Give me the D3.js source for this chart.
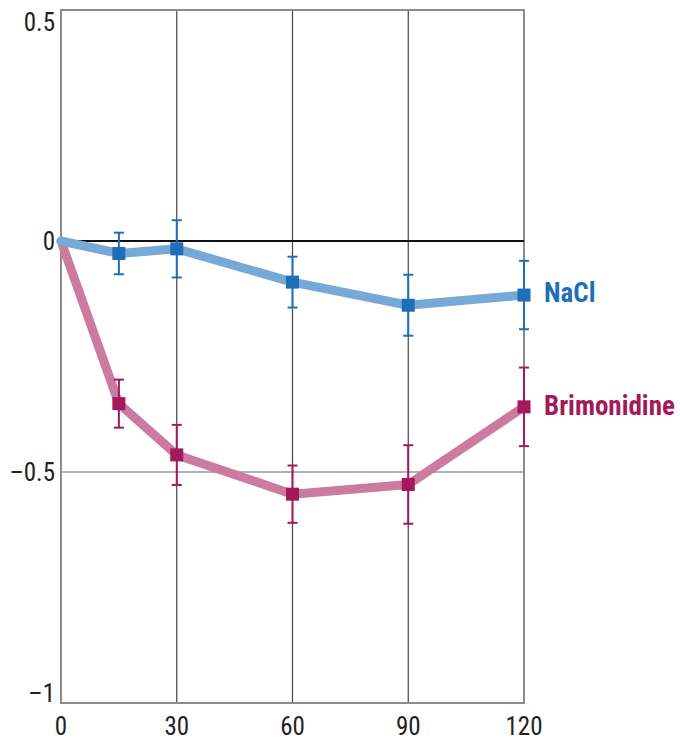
<!DOCTYPE html>
<html>
<head>
<meta charset="utf-8">
<script src="https://cdn.jsdelivr.net/npm/d3@7"></script>
<style>
  body { margin: 0; background: #fff; }
  svg text { font-family: "Liberation Sans Narrow", "Roboto Condensed", "DejaVu Sans Condensed", sans-serif; }
</style>
</head>
<body>
<svg id="chart" width="680" height="740"></svg>
<script>
// minutes
var times = [0, 15, 30, 60, 90, 120];
var naclMean = [0, -0.027, -0.017, -0.089, -0.139, -0.117];
var naclErr = [null, 0.045, 0.062, 0.055, 0.066, 0.074];
var brimMean = [0, -0.352, -0.463, -0.548, -0.527, -0.359];
var brimErr = [null, 0.052, 0.065, 0.062, 0.085, 0.085];
var xTicks = [0, 30, 60, 90, 120];
var yTicks = [0.5, 0, -0.5, -1];
var yTickLabels = ["0.5", "0", "\u20130.5", "\u20131"];

var svg = d3.select("#chart");
// plot box (note: "top" is taken by window.top)
var pLeft = 61, pRight = 524, pTop = 10, pBottom = 703;

var x = d3.scaleLinear().domain([0, 120]).range([pLeft, pRight]);
var y = d3.scaleLinear().domain([-1, 0.5]).range([pBottom, pTop]);

// grid
var g = svg.append("g");
g.selectAll(".vgrid").data([30, 60, 90]).enter().append("line")
  .attr("x1", d => x(d)).attr("x2", d => x(d))
  .attr("y1", pTop).attr("y2", pBottom)
  .attr("stroke", "#444").attr("stroke-width", 1.2);
g.append("line").attr("x1", pLeft).attr("x2", pRight).attr("y1", y(-0.5)).attr("y2", y(-0.5))
  .attr("stroke", "#999").attr("stroke-width", 1.5);
// frame
g.append("rect").attr("x", pLeft).attr("y", pTop)
  .attr("width", pRight - pLeft).attr("height", pBottom - pTop)
  .attr("fill", "none").attr("stroke", "#8c8c8c").attr("stroke-width", 2);
// zero line
g.append("line").attr("x1", pLeft).attr("x2", pRight).attr("y1", y(0)).attr("y2", y(0))
  .attr("stroke", "#111").attr("stroke-width", 2);

// axis labels
svg.selectAll(".ylab").data(yTicks).enter().append("text")
  .attr("x", pLeft - 6)
  .attr("y", d => y(d))
  .attr("dy", d => d === 0.5 ? "0.85em" : (d === -1 ? "-0.05em" : "0.36em"))
  .attr("text-anchor", "end")
  .attr("font-size", 25)
  .attr("fill", "#222")
  .text((d, i) => yTickLabels[i]);

svg.selectAll(".xlab").data(xTicks).enter().append("text")
  .attr("x", d => x(d))
  .attr("y", 735)
  .attr("text-anchor", "middle")
  .attr("font-size", 25)
  .attr("fill", "#222")
  .text(d => d);

function series(mean, err, lineColor, markColor, label, labelY) {
  var pts = times.map((t, i) => ({ t: t, v: mean[i], e: err[i] }));
  var line = d3.line().x(d => x(d.t)).y(d => y(d.v));
  svg.append("path").datum(pts)
    .attr("d", line)
    .attr("fill", "none")
    .attr("stroke", lineColor)
    .attr("stroke-width", 9)
    .attr("stroke-linejoin", "round")
    .attr("stroke-linecap", "round");
  var withErr = pts.filter(d => d.e !== null);
  var eb = svg.append("g").attr("stroke", markColor).attr("stroke-width", 2);
  withErr.forEach(function (d) {
    eb.append("line").attr("x1", x(d.t)).attr("x2", x(d.t))
      .attr("y1", y(d.v + d.e)).attr("y2", y(d.v - d.e));
    eb.append("line").attr("x1", x(d.t) - 5).attr("x2", x(d.t) + 5)
      .attr("y1", y(d.v + d.e)).attr("y2", y(d.v + d.e));
    eb.append("line").attr("x1", x(d.t) - 5).attr("x2", x(d.t) + 5)
      .attr("y1", y(d.v - d.e)).attr("y2", y(d.v - d.e));
  });
  svg.selectAll(null).data(withErr).enter().append("rect")
    .attr("x", d => x(d.t) - 6.5).attr("y", d => y(d.v) - 6.5)
    .attr("width", 13).attr("height", 13)
    .attr("fill", markColor);
  svg.append("text")
    .attr("x", 544).attr("y", labelY)
    .attr("dy", "0.36em")
    .attr("font-size", 27)
    .attr("font-weight", "bold")
    .attr("fill", markColor)
    .text(label);
}

series(brimMean, brimErr, "#cd7aa1", "#a3195b", "Brimonidine", y(brimMean[5]) - 2);
series(naclMean, naclErr, "#77a9d6", "#1f6fb8", "NaCl", y(naclMean[5]) - 3);
</script>
</body>
</html>
